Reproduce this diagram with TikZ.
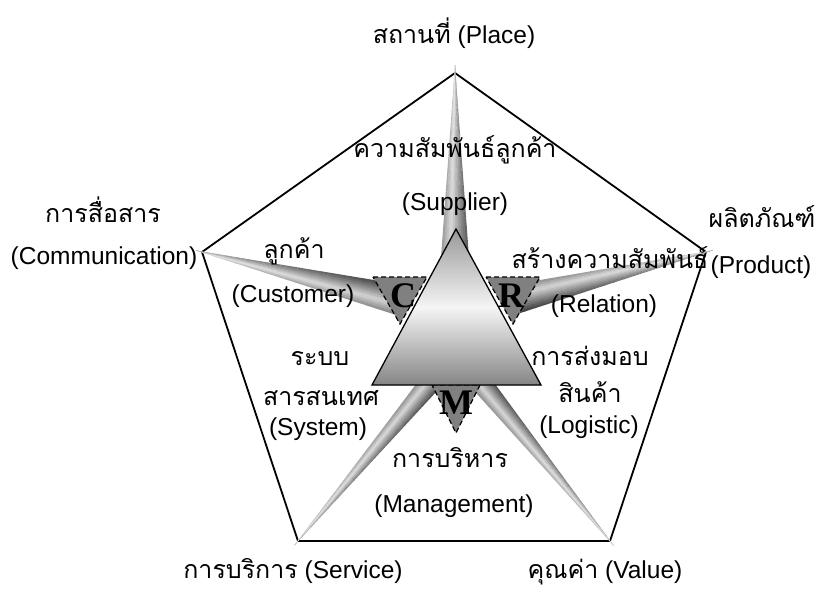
\documentclass[tikz,border=0pt]{standalone}
\usepackage{fontspec}
\setmainfont{Liberation Sans}
\newfontfamily\thaifont[Script=Thai]{Loma}
\newfontfamily\letterfont{Liberation Serif}
% spike: #1,#2 inner end, #3 direction angle, #4 length, #5 half width, #6 side of dark edge
\newcommand\drawspike[6]{%
  \begin{scope}[shift={(#1,#2)}, rotate=#3]
    \foreach \i in {0,...,19} {
      \pgfmathsetmacro\spxa{#4*\i/20}
      \pgfmathsetmacro\spxb{min(#4*(\i+1)/20+0.6,#4)}
      \pgfmathsetmacro\spwa{#5*(1-\spxa/#4)}
      \pgfmathsetmacro\spwb{#5*(1-\spxb/#4)}
      \pgfmathsetmacro\spf{1-0.5*(\i+0.5)/20}
      \foreach \j in {0,...,11} {
        \pgfmathsetmacro\spsa{-1+\j/6}
        \pgfmathsetmacro\spsb{min(-1+(\j+1)/6+0.04,1)}
        \pgfmathsetmacro\spu{#6*(\spsa+\spsb)/2}
        \pgfmathsetmacro\spk{(\spu>-0.3 ? 18+60*(\spu+0.3)/1.3 : 18+32*(-0.3-\spu)/0.7)*\spf}
        \fill[black!\spk!white] (\spxa,\spsa*\spwa) -- (\spxb,\spsa*\spwb) -- (\spxb,\spsb*\spwb) -- (\spxa,\spsb*\spwa) -- cycle;
      }
    }
  \end{scope}}
\tikzset{
  lbl/.style={font=\fontsize{24.5}{28}\selectfont, inner sep=0pt, anchor=base},
  smalltri/.style={fill=black!50, draw=black, line width=1.2pt, dash pattern=on 5pt off 3pt},
  letter/.style={font=\letterfont\bfseries\fontsize{36}{38}\selectfont, inner sep=0pt},
}
\newcommand\thtxt[1]{{\thaifont\fontsize{25}{28}\selectfont #1}}
\begin{document}
\begin{tikzpicture}[x=1pt, y=-1pt]
\useasboundingbox (0,0) rectangle (819,590);
% pentagon
\draw[line width=1.8pt, line join=miter] (455,73) -- (706,252) -- (610,541) -- (298,541) -- (202,252) -- cycle;
% spikes
\drawspike{455}{333}{90}{268}{19.5}{1}
\drawspike{400}{300}{166.37}{210}{15.5}{1}
\drawspike{512}{300}{13.9}{207}{15}{1}
\drawspike{456}{352}{230.1}{252}{12.5}{-1}
\drawspike{456}{352}{-50.83}{250}{12.5}{-1}
% small dashed triangles
\path[smalltri] (373,277) -- (427,277) -- (400,324) -- cycle;
\path[smalltri] (486,277) -- (540,277) -- (513,324) -- cycle;
\path[smalltri] (432,385) -- (480,385) -- (456,433) -- cycle;
% central triangle with vertical gradient
\begin{scope}
  \clip (456,229) -- (541,385) -- (372,385) -- cycle;
  \foreach \i in {0,...,78} {
    \pgfmathsetmacro\tgy{229+\i*2}
    \pgfmathsetmacro\tgt{\i/78}
    \pgfmathsetmacro\tgk{\tgt<0.5 ? 40-36*\tgt/0.5 : 4+44*(\tgt-0.5)/0.5}
    \fill[black!\tgk!white] (360,\tgy) rectangle (560,\tgy+2.6);
  }
\end{scope}
\draw[line width=1.3pt, line join=miter] (456,229) -- (541,385) -- (372,385) -- cycle;
% letters
\node[letter] (c) at (403,296) {C};
\node[letter] (r) at (511,296) {R};
\node[letter] (m) at (456,403) {M};
% labels
\node[lbl] (place) at (454,43) {\thtxt{สถานที่} (Place)};
\node[lbl] (comm1) at (103,222) {\thtxt{การสื่อสาร}};
\node[lbl] (comm2) at (104,264) {(Communication)};
\node[lbl] (prod1) at (762,227) {\thtxt{ผลิตภัณฑ์}};
\node[lbl] (prod2) at (761,273) {(Product)};
\node[lbl] (sup1) at (455,157) {\thtxt{ความสัมพันธ์ลูกค้า}};
\node[lbl] (sup2) at (455,210) {(Supplier)};
\node[lbl] (cus1) at (294,258) {\thtxt{ลูกค้า}};
\node[lbl] (cus2) at (293,302) {(Customer)};
\node[lbl] (rel1) at (610,268) {\thtxt{สร้างความสัมพันธ์}};
\node[lbl] (rel2) at (604,312) {(Relation)};
\node[lbl] (sys1) at (320,365) {\thtxt{ระบบ}};
\node[lbl] (sys2) at (321,405) {\thtxt{สารสนเทศ}};
\node[lbl] (sys3) at (318,435) {(System)};
\node[lbl] (log1) at (590,365) {\thtxt{การส่งมอบ}};
\node[lbl] (log2) at (590,402) {\thtxt{สินค้า}};
\node[lbl] (log3) at (589,433) {(Logistic)};
\node[lbl] (man1) at (450,467) {\thtxt{การบริหาร}};
\node[lbl] (man2) at (454,512) {(Management)};
\node[lbl] (serv) at (293,578) {\thtxt{การบริการ} (Service)};
\node[lbl] (val) at (605,578) {\thtxt{คุณค่า} (Value)};
\end{tikzpicture}
\end{document}
